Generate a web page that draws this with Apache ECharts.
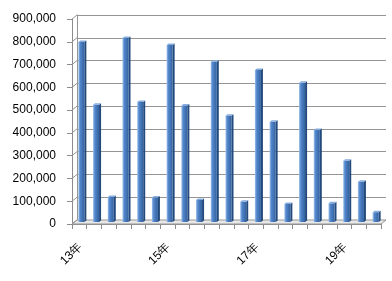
<!DOCTYPE html>
<html><head><meta charset="utf-8">
<script src="https://cdn.jsdelivr.net/npm/echarts@6/dist/echarts.min.js"></script>
<style>html,body{margin:0;padding:0;background:#fff}#c{width:392px;height:281px}</style>
</head><body><div id="c"></div>
<script>
const categories = ['13年','13年②','13年③','14年','14年②','14年③','15年','15年②','15年③','16年','16年②','16年③','17年','17年②','17年③','18年','18年②','18年③','19年','19年②','19年③'];
const values = [790000,515000,110000,808000,527000,108000,777000,512000,97000,704000,467000,89000,667000,440000,79000,611000,404000,82000,269000,177000,43000];
const labelIndices = [0,6,12,18];
const yTicks = [0,100000,200000,300000,400000,500000,600000,700000,800000,900000];
const yMin = 0, yMax = 900000, yInterval = 100000;

const DX = 5, DY = 4;
const chart = echarts.init(document.getElementById('c'), null, {renderer:'canvas'});
const font = '"Liberation Sans", Arial, sans-serif';

const barGradient = new echarts.graphic.LinearGradient(0,0,1,0,[
  {offset:0,color:'#9dbfea'},{offset:0.3,color:'#5287cc'},{offset:1,color:'#34619f'}]);

chart.setOption({
  animation:false,
  grid:[
    {left:72,right:11,top:19,bottom:57},
    {left:72+DX,right:11-DX,top:19-DY,bottom:57+DY}
  ],
  xAxis:[
    {type:'category',gridIndex:0,data:categories,boundaryGap:true,
     axisLine:{show:true,lineStyle:{color:'#8c8c8c'}},
     axisTick:{show:true,interval:0,length:5,lineStyle:{color:'#8c8c8c'}},
     axisLabel:{show:false},
     splitLine:{show:false}},
    {type:'category',gridIndex:1,data:categories,show:false}
  ],
  yAxis:[
    {type:'value',gridIndex:0,min:yMin,max:yMax,interval:yInterval,
     axisLine:{show:true,lineStyle:{color:'#8c8c8c'}},
     axisTick:{show:true,length:5,lineStyle:{color:'#8c8c8c'}},
     axisLabel:{fontSize:12,color:'#000',margin:16,fontFamily:font,
       formatter:v=>v.toLocaleString('en-US')},
     splitLine:{show:false}},
    {type:'value',gridIndex:1,min:yMin,max:yMax,interval:yInterval,
     axisLine:{show:true,lineStyle:{color:'#959595'}},
     axisTick:{show:false},axisLabel:{show:false},
     splitLine:{show:true,lineStyle:{color:'#959595',width:1}}}
  ],
  series:[
    {type:'custom',xAxisIndex:0,yAxisIndex:0,z:1,data:[[0,0]],silent:true,
     renderItem(params,api){
       const cs = params.coordSys;
       const b = api.coord([0,0])[1];
       const l = cs.x, r = cs.x+cs.width;
       return {type:'polygon',shape:{points:[[l,b],[r,b],[r+DX,b-DY],[l+DX,b-DY]]},
         style:{fill:'#e8e8e8',stroke:'#959595',lineWidth:1}};
     }},
    {type:'custom',xAxisIndex:0,yAxisIndex:0,z:1,silent:true,
     data:yTicks.map(v=>[0,v]),
     renderItem(params,api){
       const cs = params.coordSys;
       const y = api.coord([0,api.value(1)])[1];
       return {type:'line',shape:{x1:cs.x,y1:y,x2:cs.x+DX,y2:y-DY},
         style:{stroke:'#959595',lineWidth:1}};
     }},
    {type:'custom',xAxisIndex:0,yAxisIndex:0,z:5,silent:true,
     data:labelIndices.map(i=>[i,0]),
     renderItem(params,api){
       const i = api.value(0);
       const p = api.coord([i,0]);
       return {type:'text',x:p[0]+1,y:p[1]+21,rotation:Math.PI/4,
         style:{text:categories[i],align:'right',verticalAlign:'middle',
           fontSize:12,fontFamily:font,fill:'#000'}};
     }},
    {type:'custom',xAxisIndex:0,yAxisIndex:0,z:3,
     data:values.map((v,i)=>[i,v]),
     encode:{x:0,y:1},
     renderItem(params,api){
       const i = api.value(0), v = api.value(1);
       const top = api.coord([i,v]), base = api.coord([i,0]);
       const c = top[0]+2.5;
       const yt = top[1]-2, yb = base[1]-2;
       const fw = 6, sd = 2, sh = 1.5;
       const xl = c-3.5, xr = xl+fw;
       return {type:'group',children:[
         {type:'polygon',shape:{points:[[xr,yt],[xr+sd,yt-sh],[xr+sd,yb-sh],[xr,yb]]},style:{fill:'#234a7c'}},
         {type:'rect',shape:{x:xl,y:yt,width:fw,height:yb-yt},style:{fill:barGradient}},
         {type:'polygon',shape:{points:[[xl,yt],[xl+sd,yt-sh],[xr+sd,yt-sh],[xr,yt]]},style:{fill:'#86acdd'}}
       ]};
     }}
  ]
});
</script></body></html>
